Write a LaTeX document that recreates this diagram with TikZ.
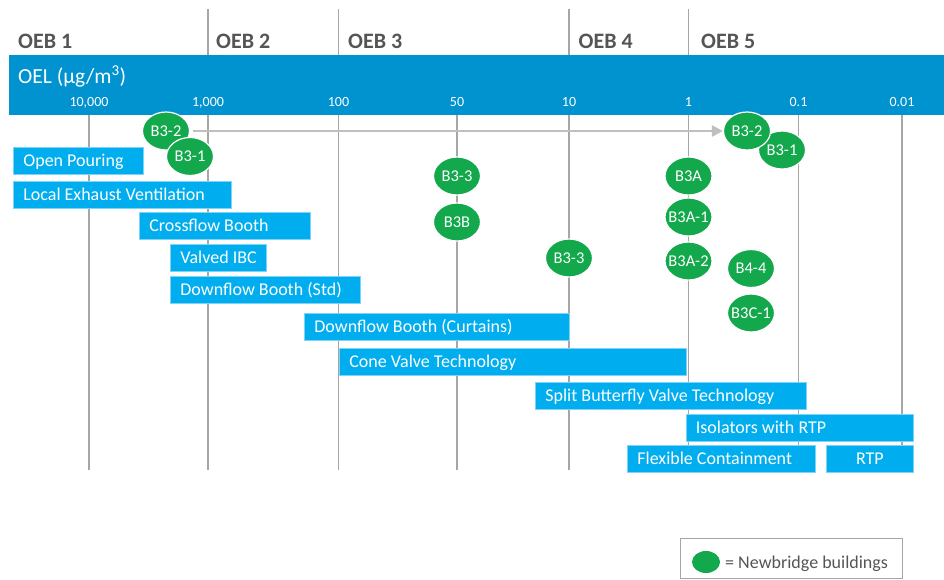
\documentclass[tikz,border=0pt]{standalone}
\usepackage{fontspec}
\setmainfont{Carlito}
\usetikzlibrary{shapes.geometric,arrows.meta}
\definecolor{bandc}{HTML}{0093CF}
\definecolor{barc}{HTML}{00AEEF}
\definecolor{barb}{HTML}{7FD3F5}
\definecolor{grn}{HTML}{12A84B}
\definecolor{gline}{HTML}{A6A6A6}
\definecolor{garrow}{HTML}{BFBFBF}
\definecolor{txtg}{HTML}{555555}
\tikzset{
  vline/.style={draw=gline, line width=1.3pt},
  oeb/.style={anchor=base west, inner sep=0pt, text=txtg, font=\fontsize{22}{26}\bfseries\selectfont},
  scalenum/.style={anchor=base, inner sep=0pt, text=white, font=\fontsize{14}{16}\selectfont},
  barbox/.style={anchor=west, fill=barc, draw=barb, line width=0.8pt, inner xsep=10pt, inner ysep=0pt,
     minimum height=27pt, text=white, font=\fontsize{18}{21}\selectfont,
     text height=12.6pt, text depth=1pt},
  bld/.style={ellipse, fill=grn, draw=white, line width=1.2pt, minimum width=47pt, minimum height=38pt,
     inner sep=0pt, text=white, font=\fontsize{16.5}{19}\selectfont, text height=10.6pt, text depth=0pt},
  arrowc/.style={draw=garrow, line width=2.7pt, -{Triangle[length=11pt,width=11pt]}, shorten <=3pt},
}
\newcommand{\mkbar}[6][l]{% align, name, x1, x2, y, text
  \pgfmathsetmacro\bwid{#4-#3-20}%
  \node[barbox] (#2) at (#3,#5) {\makebox[\bwid pt][#1]{#6}};%
}
\begin{document}
\begin{tikzpicture}[x=1pt,y=-1pt]
\useasboundingbox (0,0) rectangle (944,579);
% vertical lines
\foreach \x in {208,338.5,569,688.5} \draw[vline] (\x,9) -- (\x,470);
\foreach \x in {89,457,798.5,902} \draw[vline] (\x,115) -- (\x,470);
% band
\fill[bandc] (9,55) rectangle (944,115);
% OEB labels
\node[oeb] (oeb1) at (18,48.5) {OEB 1};
\node[oeb] (oeb2) at (216,48.5) {OEB 2};
\node[oeb] (oeb3) at (348,48.5) {OEB 3};
\node[oeb] (oeb4) at (578.5,48.5) {OEB 4};
\node[oeb] (oeb5) at (701,48.5) {OEB 5};
\node[anchor=base west, inner sep=0pt, text=white, font=\fontsize{21.5}{25}\selectfont] (oel) at (18,83) {OEL (µg/m\textsuperscript{3})};
% scale
\node[scalenum] (s1) at (89,106) {10,000};
\node[scalenum] (s2) at (208,106) {1,000};
\node[scalenum] (s3) at (338.5,106) {100};
\node[scalenum] (s4) at (457,106) {50};
\node[scalenum] (s5) at (569,106) {10};
\node[scalenum] (s6) at (688.5,106) {1};
\node[scalenum] (s7) at (798.5,106) {0.1};
\node[scalenum] (s8) at (902,106) {0.01};
% bars
\mkbar{op}{13}{143}{160.5}{Open Pouring}
\mkbar{lev}{13}{231}{194.5}{Local Exhaust Ventilation}
\mkbar{cb}{139}{310}{225.5}{Crossflow Booth}
\mkbar{vibc}{170}{266}{257.5}{Valved IBC}
\mkbar{dbs}{170}{360}{289.5}{Downflow Booth (Std)}
\mkbar{dbc}{304}{569}{326.5}{Downflow Booth (Curtains)}
\mkbar{cvt}{339}{686}{362}{Cone Valve Technology}
\mkbar{sbv}{535}{806}{395.5}{Split Butterfly Valve Technology}
\mkbar{iso}{685.5}{913}{427.5}{Isolators with RTP}
\mkbar{flex}{627}{815}{459}{Flexible Containment}
\mkbar[c]{rtp}{826}{913}{459}{RTP}
% buildings
\node[bld] (l32) at (166,131) {\makebox[0pt]{B3-2}};
\node[bld] (l31) at (190,156.5) {\makebox[0pt]{B3-1}};
\node[bld] (b33a) at (457,176) {\makebox[0pt]{B3-3}};
\node[bld] (b3b) at (457,222) {\makebox[0pt]{B3B}};
\node[bld] (b33b) at (569,258) {\makebox[0pt]{B3-3}};
\node[bld] (b3a) at (688.5,176) {\makebox[0pt]{B3A}};
\node[bld] (b3a1) at (688.5,217) {\makebox[0pt]{B3A-1}};
\node[bld] (b3a2) at (688.5,261) {\makebox[0pt]{B3A-2}};
\node[bld] (r31) at (782,150) {\makebox[0pt]{B3-1}};
\node[bld] (r32) at (747,131) {\makebox[0pt]{B3-2}};
\node[bld] (b44) at (751,268.5) {\makebox[0pt]{B4-4}};
\node[bld] (b3c1) at (751,313) {\makebox[0pt]{B3C-1}};
% arrow
\draw[arrowc] (l32.east) -- (r32.west);
% legend
\node[draw=gline, line width=1.3pt, minimum width=222pt, minimum height=40pt, anchor=north west, inner sep=0pt] (legbox) at (680,538) {};
\node[ellipse, fill=grn, minimum width=28pt, minimum height=22pt, inner sep=0pt] (legell) at (706,562) {};
\node[anchor=base west, inner sep=0pt, text=txtg, font=\fontsize{18}{21}\selectfont] (legtxt) at (725,568) {= Newbridge buildings};
\end{tikzpicture}
\end{document}
